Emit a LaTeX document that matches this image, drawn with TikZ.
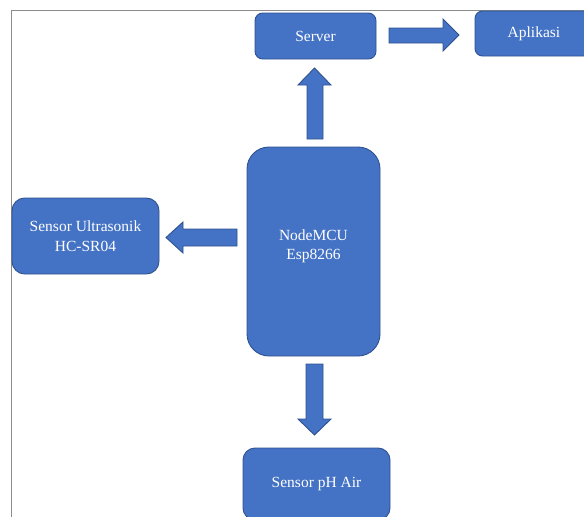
\documentclass[tikz,border=0pt]{standalone}
\usepackage{fontspec}
\setmainfont{Liberation Serif}
\definecolor{boxblue}{HTML}{4472C4}
\definecolor{edgeblue}{HTML}{2F528F}
\definecolor{framegray}{HTML}{8C8C8C}
\begin{document}
\begin{tikzpicture}[x=1pt,y=-1pt,
  blk/.style={draw=edgeblue,fill=boxblue,line width=0.9pt,inner sep=0pt,
    text=white,align=center,font=\fontsize{15.5}{19.5}\selectfont},
  barrow/.style={draw=edgeblue,fill=boxblue,line width=0.9pt,line join=miter},
  txt/.style={text=white,align=center,font=\fontsize{15.5}{19.5}\selectfont,inner sep=0pt}]
\useasboundingbox (0,0) rectangle (584,517);
\clip (0,0) rectangle (584,517);
% frame
\draw[framegray,line width=1pt] (11,517) -- (11,10) -- (584,10);
% boxes
\node[blk,minimum width=121pt,minimum height=46pt,rounded corners=7.7pt] (server) at (315.5,36) {Server};
\node[blk,minimum width=118pt,minimum height=45pt,rounded corners=7.5pt] (app) at (534,33.5) {Aplikasi};
\node[blk,minimum width=133pt,minimum height=209pt,rounded corners=22pt] (mcu) at (313.5,251.5) {};
\node[txt] (mcutext) at (313.5,246.5) {NodeMCU\\Esp8266};
\node[blk,minimum width=147pt,minimum height=76pt,rounded corners=12.7pt] (ultra) at (85.5,236) {Sensor Ultrasonik\\HC-SR04};
\node[blk,minimum width=147pt,minimum height=72pt,rounded corners=12pt] (ph) at (316.5,484) {Sensor pH Air};
% block arrows
% server -> app
\draw[barrow] (389,28) -- (443,28) -- (443,19) -- (459,35) -- (443,51) -- (443,43) -- (389,43) -- cycle;
% mcu -> server
\draw[barrow] (307,139) -- (307,85) -- (298,85) -- (314.5,68) -- (331,85) -- (323,85) -- (323,139) -- cycle;
% mcu -> ultra
\draw[barrow] (237,229) -- (183,229) -- (183,222) -- (166,237.5) -- (183,253) -- (183,246) -- (237,246) -- cycle;
% mcu -> ph
\draw[barrow] (306,364) -- (323,364) -- (323,419) -- (331,419) -- (314.5,435) -- (298,419) -- (306,419) -- cycle;
\end{tikzpicture}
\end{document}
